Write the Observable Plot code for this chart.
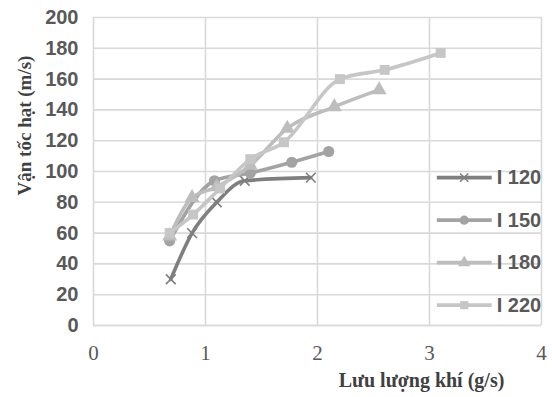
<!DOCTYPE html>
<html>
<head>
<meta charset="utf-8">
<script src="https://cdn.jsdelivr.net/npm/d3@7"></script>
<script src="https://cdn.jsdelivr.net/npm/@observablehq/plot@0.6"></script>
<style>
  html, body { margin: 0; padding: 0; background: #fff; }
  #chart { width: 552px; height: 397px; }
</style>
</head>
<body>
<div id="chart"></div>
<script>
const seriesNames = ["I 120", "I 150", "I 180", "I 220"];
const seriesColors = ["#7f7f7f", "#a3a3a3", "#bdbdbd", "#c6c6c6"];
const seriesSymbols = ["times", "circle", "triangle", "square"];

const x120 = [0.69, 0.88, 1.10, 1.35, 1.94];
const y120 = [30, 60, 80, 94, 96];
const x150 = [0.68, 1.08, 1.40, 1.77, 2.10];
const y150 = [55, 94, 99, 106, 113];
const x180 = [0.68, 0.88, 1.10, 1.40, 1.73, 2.15, 2.55];
const y180 = [58, 83, 90, 104, 128, 142, 153];
const x220 = [0.68, 0.89, 1.13, 1.40, 1.70, 2.20, 2.60, 3.10];
const y220 = [60, 72, 89, 108, 119, 160, 166, 177];

const xTicks = [0, 1, 2, 3, 4];
const yTicks = [0, 20, 40, 60, 80, 100, 120, 140, 160, 180, 200];

const xs = [x120, x150, x180, x220];
const ys = [y120, y150, y180, y220];
const data = [];
seriesNames.forEach((name, i) => {
  xs[i].forEach((x, j) => data.push({series: name, x, y: ys[i][j]}));
});

const legend = seriesNames.map((name, i) => ({series: name, y: 96 - i * 27.6}));
const colorScale = {domain: seriesNames, range: seriesColors};
const symbolScale = {domain: seriesNames, range: seriesSymbols};

const serifFont = "Liberation Serif, Times New Roman, serif";
const sansFont = "Liberation Sans, Arial, sans-serif";

const marks = [
  Plot.gridY(yTicks, {stroke: "#d9d9d9", strokeOpacity: 1, strokeWidth: 1.6}),
  Plot.gridX(xTicks, {stroke: "#d9d9d9", strokeOpacity: 1, strokeWidth: 1.6}),
  Plot.ruleY([0], {stroke: "#d9d9d9", strokeWidth: 1.6}),
  Plot.text(yTicks, {x: 0, y: d => d, text: d => String(d), textAnchor: "end", dx: -15,
    fontFamily: sansFont, fontWeight: "bold", fontSize: 20, fill: "#595959"}),
  Plot.text(xTicks, {x: d => d, y: 0, text: d => String(d), dy: 28,
    fontFamily: serifFont, fontSize: 21, fill: "#595959"}),
  Plot.text(["Vận tốc hạt (m/s)"], {frameAnchor: "left", text: d => d, rotate: -90, textAnchor: "middle",
    dx: -69, dy: -46,
    fontFamily: serifFont, fontWeight: "bold", fontSize: 19, fill: "#404040"}),
  Plot.text(["Lưu lượng khí (g/s)"], {frameAnchor: "bottom", text: d => d, textAnchor: "middle", dx: 104, dy: 61,
    fontFamily: serifFont, fontWeight: "bold", fontSize: 20, fill: "#404040"})
];

seriesNames.forEach((name) => {
  const sd = data.filter(d => d.series === name);
  marks.push(Plot.line(sd, {x: "x", y: "y", stroke: "series", strokeWidth: 3.6, curve: "monotone-x"}));
  if (name === "I 120") {
    marks.push(Plot.dot(sd, {x: "x", y: "y", symbol: "series", r: 4.5, fill: "none", stroke: "series", strokeWidth: 1.6}));
  } else {
    marks.push(Plot.dot(sd, {x: "x", y: "y", symbol: "series", r: 5.6, fill: "series", stroke: "none"}));
  }
});

marks.push(
  Plot.ruleY(legend, {y: "y", x1: 3.07, x2: 3.56, stroke: "series", strokeWidth: 3.6}),
  Plot.dot(legend.filter(d => d.series === "I 120"), {x: 3.31, y: "y", symbol: "series", r: 3.8,
    fill: "none", stroke: "series", strokeWidth: 1.5}),
  Plot.dot(legend.filter(d => d.series !== "I 120"), {x: 3.31, y: "y", symbol: "series", r: 4.6,
    fill: "series", stroke: "none"}),
  Plot.text(legend, {x: 3.60, y: "y", text: "series", textAnchor: "start",
    fontFamily: sansFont, fontWeight: "bold", fontSize: 20, fill: "#595959"})
);

const chart = Plot.plot({
  width: 552,
  height: 397,
  marginLeft: 93,
  marginRight: 11,
  marginTop: 17,
  marginBottom: 72,
  x: {domain: [0, 4], axis: null},
  y: {domain: [0, 200], axis: null},
  color: colorScale,
  symbol: symbolScale,
  style: {background: "#fff", overflow: "visible"},
  marks
});
document.getElementById("chart").appendChild(chart);
</script>
</body>
</html>
